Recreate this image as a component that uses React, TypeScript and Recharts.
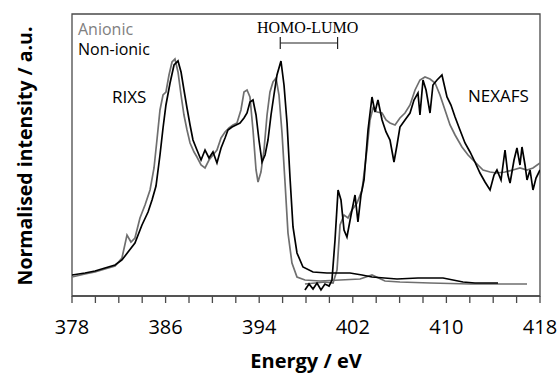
import { LineChart, Line, XAxis, YAxis, ReferenceArea, ReferenceLine } from "recharts"

type Pt = { e: number; v: number }
const pts = (a: number[][]): Pt[] => a.map(([e, v]) => ({ e, v }))

// x ticks, every 2 eV, labelled every 8 eV
const xTicks = [378, 380, 382, 384, 386, 388, 390, 392, 394, 396, 398, 400, 402, 404, 406, 408, 410, 412, 414, 416, 418]
const labelledTicks = [378, 386, 394, 402, 410, 418]

const rixsNonIonic = pts([
    [378.0, 21], [379.11, 23], [379.97, 25], [380.82, 28], [381.68, 31], [382.27, 36], [382.79, 44], [383.38, 53],
    [383.98, 71], [384.5, 84], [384.84, 96], [385.18, 110], [385.52, 141], [385.78, 168], [386.03, 191], [386.38, 213],
    [386.72, 231], [387.06, 235], [387.32, 224], [387.57, 206], [387.83, 188], [388.09, 171], [388.34, 156], [388.68, 146],
    [389.03, 136], [389.37, 146], [389.71, 138], [390.05, 144], [390.39, 133], [390.74, 148], [391.08, 158], [391.33, 166],
    [391.68, 169], [392.02, 171], [392.36, 173], [392.7, 178], [392.96, 183], [393.21, 194], [393.47, 196], [393.73, 181],
    [393.98, 156], [394.24, 134], [394.5, 141], [394.75, 156], [395.01, 181], [395.26, 201], [395.52, 221], [395.86, 235],
    [396.12, 211], [396.38, 173], [396.63, 119], [396.89, 69], [397.23, 43], [397.74, 29], [398.6, 24], [399.79, 23],
    [400.91, 23], [401.76, 23], [402.79, 21], [403.64, 19], [405.78, 17], [407.57, 18], [409.71, 18], [411.42, 14],
    [412.44, 13], [414.41, 13],
])

const rixsAnionic = pts([
    [378.0, 19], [379.11, 22], [379.97, 24], [380.82, 27], [381.68, 30], [382.27, 38], [382.7, 61], [383.04, 54],
    [383.38, 58], [383.81, 78], [384.24, 91], [384.67, 106], [385.01, 128], [385.26, 156], [385.52, 186], [385.78, 201],
    [386.03, 204], [386.29, 221], [386.55, 234], [386.8, 237], [387.06, 224], [387.32, 201], [387.57, 181], [387.83, 166],
    [388.09, 153], [388.43, 144], [388.68, 139], [389.03, 131], [389.37, 128], [389.71, 136], [390.05, 141], [390.39, 146],
    [390.74, 158], [391.08, 164], [391.42, 168], [391.76, 171], [392.1, 173], [392.44, 186], [392.7, 204], [392.96, 206],
    [393.21, 199], [393.47, 166], [393.73, 126], [393.9, 114], [394.15, 124], [394.41, 146], [394.67, 181], [394.92, 204],
    [395.18, 214], [395.44, 218], [395.69, 201], [395.95, 163], [396.21, 113], [396.46, 63], [396.8, 33], [397.23, 19],
    [397.91, 16], [399.2, 15], [400.91, 16], [402.62, 17], [403.64, 21], [404.75, 15], [406.03, 14], [408.6, 13],
    [412.02, 12], [416.89, 12],
])

const nexafsNonIonic = pts([
    [397.91, 6], [398.26, 12], [398.6, 7], [398.94, 13], [399.28, 6], [399.62, 12], [399.97, 10], [400.22, 16],
    [400.48, 56], [400.74, 106], [400.99, 96], [401.25, 66], [401.5, 59], [401.85, 81], [402.19, 101], [402.44, 74],
    [402.7, 101], [402.96, 116], [403.3, 166], [403.64, 199], [403.9, 184], [404.15, 196], [404.5, 176], [404.84, 164],
    [405.18, 156], [405.52, 134], [405.78, 151], [406.03, 169], [406.46, 176], [406.89, 183], [407.23, 196], [407.57, 203],
    [407.74, 181], [408.0, 216], [408.26, 206], [408.6, 183], [408.85, 211], [409.2, 216], [409.62, 221], [410.05, 199],
    [410.39, 191], [410.74, 179], [411.16, 166], [411.59, 153], [412.02, 144], [412.44, 134], [412.87, 123], [413.3, 114],
    [413.73, 106], [414.07, 121], [414.32, 126], [414.67, 116], [415.01, 146], [415.26, 121], [415.44, 113], [415.78, 136],
    [416.03, 148], [416.29, 131], [416.46, 149], [416.72, 131], [416.89, 116], [417.15, 126], [417.4, 106], [417.66, 118],
    [418.0, 126],
])

const nexafsAnionic = pts([
    [397.91, 12], [398.77, 13], [399.62, 14], [400.31, 13], [400.65, 26], [400.91, 71], [401.25, 81], [401.59, 78],
    [401.93, 86], [402.36, 93], [402.79, 106], [403.21, 146], [403.47, 176], [403.73, 188], [404.07, 184], [404.5, 183],
    [404.84, 176], [405.18, 173], [405.61, 171], [406.03, 178], [406.46, 183], [406.89, 191], [407.32, 206], [407.74, 216],
    [408.17, 219], [408.6, 217], [409.03, 213], [409.45, 201], [409.88, 186], [410.31, 171], [410.74, 161], [411.33, 149],
    [411.85, 141], [412.27, 136], [412.7, 131], [413.13, 126], [413.73, 124], [414.32, 123], [415.01, 124], [415.69, 126],
    [416.29, 128], [416.89, 126], [417.4, 128], [418.0, 133],
])

// HOMO-LUMO gap bracket
const homo = 395.8
const lumo = 400.7

const GRAY = "#6f6f6f"
const AXIS = "#4a4a4a"
const sans = "'Open Sans', sans-serif"

export default function App() {
    const txt = (s: React.CSSProperties): React.CSSProperties => ({
        position: "absolute",
        fontFamily: sans,
        fontSize: 17,
        lineHeight: 1,
        whiteSpace: "nowrap",
        ...s,
    })
    return (
        <div style={{ position: "absolute", left: 0, top: 0, width: 560, height: 379, background: "#fff" }}>
            <LineChart width={560} height={379} data={rixsNonIonic} margin={{ top: 14, right: 20, left: 72, bottom: 0 }}>
                <XAxis
                    dataKey="e"
                    type="number"
                    domain={[378, 418]}
                    ticks={xTicks}
                    allowDataOverflow
                    height={83}
                    tickSize={7}
                    tickMargin={17}
                    stroke={AXIS}
                    strokeWidth={1.3}
                    tick={{ fill: "#000", fontSize: 20, fontFamily: sans }}
                    tickFormatter={(t: number) => (labelledTicks.includes(t) ? String(t) : "")}
                    interval={0}
                />
                <YAxis type="number" domain={[0, 282]} hide allowDataOverflow />
                <ReferenceArea x1={378} x2={418} y1={0} y2={282} fill="none" stroke={AXIS} strokeWidth={1.3} />
                <ReferenceLine segment={[{ x: homo, y: 253 }, { x: lumo, y: 253 }]} stroke="#222" strokeWidth={1.2} />
                <ReferenceLine segment={[{ x: homo, y: 247 }, { x: homo, y: 259 }]} stroke="#222" strokeWidth={1.2} />
                <ReferenceLine segment={[{ x: lumo, y: 247 }, { x: lumo, y: 259 }]} stroke="#222" strokeWidth={1.2} />
                <Line data={rixsAnionic} dataKey="v" stroke={GRAY} strokeWidth={1.7} dot={false} isAnimationActive={false} />
                <Line data={nexafsAnionic} dataKey="v" stroke={GRAY} strokeWidth={1.7} dot={false} isAnimationActive={false} />
                <Line data={rixsNonIonic} dataKey="v" stroke="#000" strokeWidth={1.7} dot={false} isAnimationActive={false} />
                <Line data={nexafsNonIonic} dataKey="v" stroke="#000" strokeWidth={1.7} dot={false} isAnimationActive={false} />
            </LineChart>
            <div style={txt({ left: 78, top: 21, fontSize: 16, color: "#808080" })}>Anionic</div>
            <div style={txt({ left: 78, top: 41, fontSize: 16, color: "#000" })}>Non-ionic</div>
            <div style={txt({ left: 112, top: 88, color: "#000" })}>RIXS</div>
            <div style={txt({ left: 468, top: 87, color: "#000" })}>NEXAFS</div>
            <div style={txt({ left: 257, top: 20, fontFamily: "'Liberation Serif', serif", fontSize: 16 })}>HOMO-LUMO</div>
            <div style={txt({ left: 306, top: 351, transform: "translateX(-50%)", fontWeight: 700, fontSize: 20 })}>Energy / eV</div>
            <div
                style={txt({
                    left: 25,
                    top: 156,
                    transform: "translate(-50%, -50%) rotate(-90deg)",
                    fontWeight: 700,
                    fontSize: 19.5,
                })}
            >
                Normalised intensity / a.u.
            </div>
        </div>
    )
}
